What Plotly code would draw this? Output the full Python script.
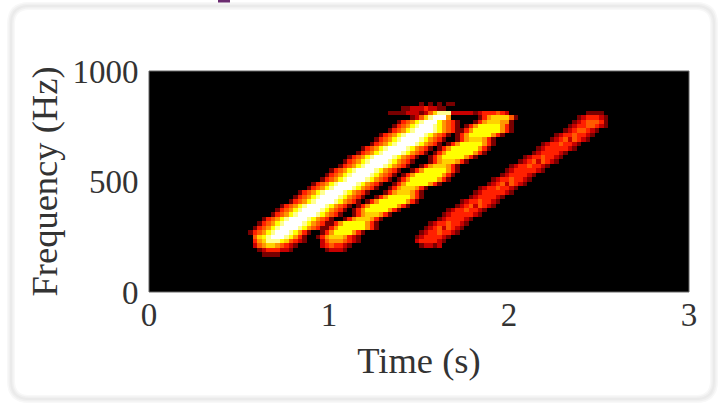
import plotly.graph_objects as go

# Axis scale
time_max = 3.0
freq_max = 1000
n_cols = 120
n_rows = 50
x_ticks = [0, 1, 2, 3]
y_ticks = [0, 500, 1000]

# Sparse spectrogram. Levels 0-9 per 0.025 s cell, 20 Hz per row.
ridge1_freq = list(range(160, 860, 20))
ridge1_start = [25,24,23,23,23,22,23,24,25,27,28,29,31,32,33,35,36,38,39,40,42,43,44,46,47,49,50,51,53,54,55,58,60,56,60]
ridge1_levels = ["1111","12333221","2456654321","356888764321","467899987531","13457899987531",
 "1345789999875431","1345789999875431","1345789999875431","1345789999875431","1345789999875431","1345789999875431",
 "1345789999875431","1345789999875431","1345789999875431","1345789999875431","1345789999875431","1345789999875431",
 "1345789999875431","1345789999875431","1345789999875431","1345789999875431","1345789999875431","1345789999875431",
 "1345789999875431","1345789999875431","1345789999875431","1345789999875431","1345789999875431","134578999875431",
 "13457899975431","124689995","1246888","1122232211","10101011"]
fringe_start = 53
fringe_levels = "1111222"
fringe2_start = 67
fringe2_levels = "2222211"

ridge2_freq = list(range(180, 820, 20))
ridge2_start = [39,38,38,37,38,39,40,43,45,45,46,48,50,52,53,54,55,56,58,60,62,62,63,64,66,68,68,69,70,72,73,73]
ridge2_levels = ["12221","2343321","245554321","1356665321","1357777531","135777777531","13577777531","135666531",
 "135666531","13577777531","135777777531","135777777531","13577777531","135666531","135666531","13577777531",
 "135777777531","135777777531","13577777531","135666531","135666531","13577777531","135777777531","135777777531",
 "13577777531","135666531","13577777531","135777777531","13577777531","135666551","135666641","2333432"]

ridge3_freq = list(range(200, 820, 20))
ridge3_start = [60,59,59,60,61,62,64,65,66,68,69,71,72,73,75,76,78,79,80,82,83,85,86,87,89,90,92,93,94,95,97]
ridge3_levels = ["12212","2333321","12333321","123343321","123424321","123343321","12333321","123333321","123343321",
 "123424321","123343321","12333321","123333321","123343321","123424321","123343321","12333321","123333321","123343321",
 "123424321","123343321","12333321","123333321","123343321","123424321","123343321","12344321","123344321","12344431",
 "1233321","1111"]

# Hot-style palette per level
level_colors = ["#000000","#780000","#c80000","#ff2000","#ff5a00","#ff9600","#ffd200","#ffff00","#ffff90","#ffffff"]

z = [[0]*n_cols for _ in range(n_rows)]
def paint(freq, start, levels):
    r = freq // 20
    for i, ch in enumerate(levels):
        z[r][start+i] = max(z[r][start+i], int(ch))
for f, s, l in zip(ridge1_freq, ridge1_start, ridge1_levels):
    paint(f, s, l)
for f, s, l in zip(ridge2_freq, ridge2_start, ridge2_levels):
    paint(f, s, l)
for f, s, l in zip(ridge3_freq, ridge3_start, ridge3_levels):
    paint(f, s, l)
paint(800, fringe_start, fringe_levels)
paint(800, fringe2_start, fringe2_levels)

xs = [(i+0.5)*time_max/n_cols for i in range(n_cols)]
ys = [(j+0.5)*freq_max/n_rows for j in range(n_rows)]
scale = [[i/9, c] for i, c in enumerate(level_colors)]

fig = go.Figure(go.Heatmap(x=xs, y=ys, z=z, zmin=0, zmax=9, colorscale=scale, showscale=False, hoverinfo="skip"))

L, R, T, B = 149, 689, 71, 292
def px(x): return (x-L)/(R-L)
def py(y): return (B-y)/(B-T)
def card(x0, y0, x1, y1, r):
    return (f"M{px(x0+r)},{py(y0)} L{px(x1-r)},{py(y0)} Q{px(x1)},{py(y0)} {px(x1)},{py(y0+r)} "
            f"L{px(x1)},{py(y1-r)} Q{px(x1)},{py(y1)} {px(x1-r)},{py(y1)} L{px(x0+r)},{py(y1)} "
            f"Q{px(x0)},{py(y1)} {px(x0)},{py(y1-r)} L{px(x0)},{py(y0+r)} Q{px(x0)},{py(y0)} {px(x0+r)},{py(y0)} Z")

shapes = []
for w, c in [(8, "#f8f8f8"), (5, "#f0f0f0"), (2, "#eaeaea")]:
    shapes.append(dict(type="path", xref="paper", yref="paper", path=card(11, 6, 714, 399, 18), line=dict(color=c, width=w), fillcolor="rgba(0,0,0,0)", layer="below"))
shapes.append(dict(type="rect", xref="paper", yref="paper", x0=px(218), x1=px(230), y0=py(2.5), y1=py(0), line=dict(width=0), fillcolor="#6b2c70", layer="above"))
shapes.append(dict(type="rect", xref="paper", yref="paper", x0=0, x1=1, y0=0, y1=1, line=dict(color="#666666", width=1), fillcolor="rgba(0,0,0,0)", layer="above"))

tick_font = dict(family="Liberation Serif", size=33, color="#333333")
title_font = dict(family="Liberation Serif", size=36.5, color="#333333")
fig.update_layout(
    width=721, height=404, margin=dict(l=L, r=721-R, t=T, b=404-B, autoexpand=False),
    paper_bgcolor="#ffffff", plot_bgcolor="#000000", font=tick_font, shapes=shapes,
    xaxis=dict(range=[0, time_max], tickvals=x_ticks, ticktext=[str(v) for v in x_ticks], tickfont=tick_font, showgrid=False, zeroline=False, ticks="",
               title=dict(text="Time (s)", font=title_font, standoff=15)),
    yaxis=dict(range=[0, freq_max], tickvals=y_ticks, ticktext=[str(v) for v in y_ticks], tickfont=tick_font, showgrid=False, zeroline=False, ticks="outside", ticklen=3, tickcolor="rgba(0,0,0,0)",
               title=dict(text="Frequency (Hz)", font=title_font, standoff=3)),
)
fig.write_html("out.html", config=dict(displayModeBar=False), post_script="document.body.style.margin='0';document.documentElement.style.overflow='hidden';")
